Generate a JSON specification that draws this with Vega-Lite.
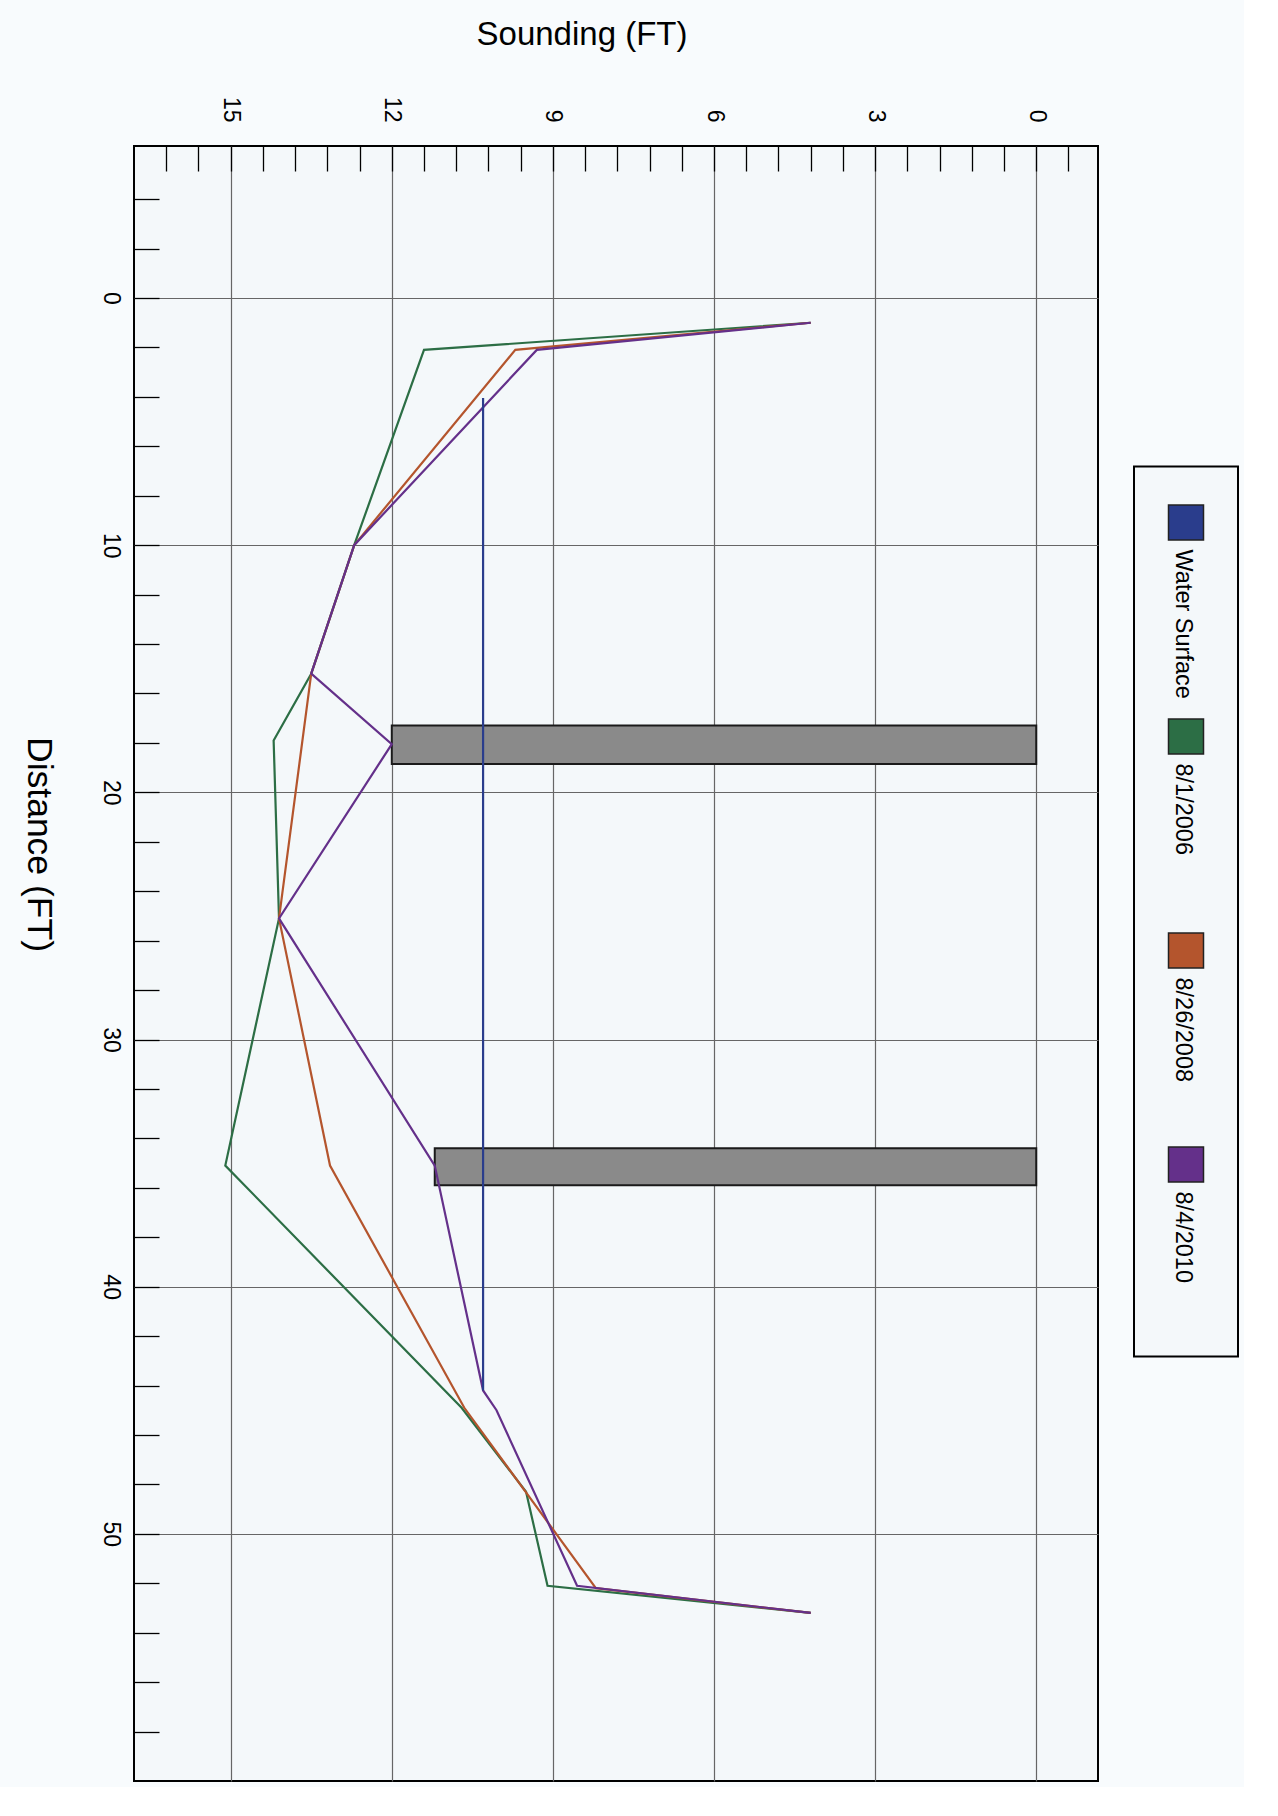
{
  "$schema": "https://vega.github.io/schema/vega-lite/v6.json",
  "background": "#f8fbfd",
  "padding": {"left": 19, "top": 17, "right": 5, "bottom": 5},
  "spacing": 34,
  "center": true,
  "config": {
    "font": "Liberation Sans",
    "view": {"stroke": "#000000", "strokeWidth": 2, "fill": "#f4f8fa"}
  },
  "datasets": {
    "piers": [
      {"pier": "Pier 1", "d_start": 17.3, "d_end": 18.85, "s_top": 12.0, "s_base": 0},
      {"pier": "Pier 2", "d_start": 34.4, "d_end": 35.9, "s_top": 11.2, "s_base": 0}
    ],
    "profiles": [
      {"series": "8/1/2006", "distance": 1.0, "sounding": 4.2},
      {"series": "8/1/2006", "distance": 2.1, "sounding": 11.4},
      {"series": "8/1/2006", "distance": 10.0, "sounding": 12.7},
      {"series": "8/1/2006", "distance": 15.2, "sounding": 13.5},
      {"series": "8/1/2006", "distance": 17.9, "sounding": 14.2},
      {"series": "8/1/2006", "distance": 25.1, "sounding": 14.1},
      {"series": "8/1/2006", "distance": 35.1, "sounding": 15.1},
      {"series": "8/1/2006", "distance": 44.9, "sounding": 10.7},
      {"series": "8/1/2006", "distance": 48.3, "sounding": 9.5},
      {"series": "8/1/2006", "distance": 52.1, "sounding": 9.1},
      {"series": "8/1/2006", "distance": 53.2, "sounding": 4.2},
      {"series": "8/26/2008", "distance": 1.0, "sounding": 4.2},
      {"series": "8/26/2008", "distance": 2.1, "sounding": 9.7},
      {"series": "8/26/2008", "distance": 10.0, "sounding": 12.7},
      {"series": "8/26/2008", "distance": 15.2, "sounding": 13.5},
      {"series": "8/26/2008", "distance": 25.1, "sounding": 14.1},
      {"series": "8/26/2008", "distance": 35.1, "sounding": 13.15},
      {"series": "8/26/2008", "distance": 44.9, "sounding": 10.65},
      {"series": "8/26/2008", "distance": 52.2, "sounding": 8.2},
      {"series": "8/26/2008", "distance": 53.2, "sounding": 4.2},
      {"series": "8/4/2010", "distance": 1.0, "sounding": 4.2},
      {"series": "8/4/2010", "distance": 2.1, "sounding": 9.3},
      {"series": "8/4/2010", "distance": 10.0, "sounding": 12.7},
      {"series": "8/4/2010", "distance": 15.2, "sounding": 13.5},
      {"series": "8/4/2010", "distance": 18.05, "sounding": 12.0},
      {"series": "8/4/2010", "distance": 25.1, "sounding": 14.1},
      {"series": "8/4/2010", "distance": 35.1, "sounding": 11.2},
      {"series": "8/4/2010", "distance": 44.2, "sounding": 10.3},
      {"series": "8/4/2010", "distance": 45.0, "sounding": 10.05},
      {"series": "8/4/2010", "distance": 52.1, "sounding": 8.55},
      {"series": "8/4/2010", "distance": 53.2, "sounding": 4.2},
      {"series": "Water Surface", "distance": 4.05, "sounding": 10.3},
      {"series": "Water Surface", "distance": 44.2, "sounding": 10.3}
    ],
    "legend": [
      {"series": "Water Surface", "rank": 0},
      {"series": "8/1/2006", "rank": 1},
      {"series": "8/26/2008", "rank": 2},
      {"series": "8/4/2010", "rank": 3}
    ]
  },
  "hconcat": [
    {
      "width": 964,
      "height": 1635,
      "layer": [
        {
          "data": {"name": "piers"},
          "mark": {"type": "rect", "fill": "#8a8a8a", "stroke": "#1a1a1a", "strokeWidth": 2},
          "encoding": {
            "x": {
              "field": "s_top", "type": "quantitative",
              "scale": {"domain": [-1.15, 16.8], "reverse": true, "nice": false, "zero": false},
              "axis": {
                "orient": "top",
                "title": "Sounding (FT)",
                "values": [-0.6, 0, 0.6, 1.2, 1.8, 2.4, 3, 3.6, 4.2, 4.8, 5.4, 6, 6.6, 7.2, 7.8, 8.4, 9, 9.6, 10.2, 10.8, 11.4, 12, 12.6, 13.2, 13.8, 14.4, 15, 15.6, 16.2],
                "tickCount": 100,
                "labelExpr": "datum.value % 3 === 0 ? format(datum.value, 'd') : ''",
                "labelAngle": 90, "labelAlign": "right", "labelBaseline": "middle",
                "labelFontSize": 23, "labelColor": "#000000", "labelPadding": 49,
                "labelOverlap": false, "labelFlush": false,
                "tickSize": -25, "tickColor": "#000000", "tickWidth": 1.3,
                "domain": false,
                "grid": true, "gridColor": "#666666", "gridWidth": 1.2,
                "gridOpacity": {"condition": {"test": "datum.value % 3 === 0", "value": 1}, "value": 0},
                "titleFontSize": 33, "titleFontWeight": "normal", "titleColor": "#000000",
                "titleX": 447.5, "titleY": -111.5, "titleAngle": 0, "titleAlign": "center", "titleBaseline": "middle"
              }
            },
            "x2": {"field": "s_base"},
            "y": {
              "field": "d_start", "type": "quantitative",
              "scale": {"domain": [-6.15, 60], "reverse": true, "nice": false, "zero": false},
              "axis": {
                "orient": "left",
                "title": "Distance (FT)",
                "values": [-4, -2, 0, 2, 4, 6, 8, 10, 12, 14, 16, 18, 20, 22, 24, 26, 28, 30, 32, 34, 36, 38, 40, 42, 44, 46, 48, 50, 52, 54, 56, 58],
                "tickCount": 100,
                "labelExpr": "datum.value % 10 === 0 ? format(datum.value, 'd') : ''",
                "labelAngle": 90, "labelAlign": "center", "labelBaseline": "middle",
                "labelFontSize": 23, "labelColor": "#000000", "labelPadding": 49,
                "labelOverlap": false, "labelFlush": false,
                "tickSize": -25, "tickColor": "#000000", "tickWidth": 1.3,
                "domain": false,
                "grid": true, "gridColor": "#666666", "gridWidth": 1.2,
                "gridOpacity": {"condition": {"test": "datum.value % 10 === 0", "value": 1}, "value": 0},
                "titleFontSize": 35.5, "titleFontWeight": "normal", "titleColor": "#000000",
                "titleX": -95.5, "titleY": 698, "titleAngle": 90, "titleAlign": "center", "titleBaseline": "middle"
              }
            },
            "y2": {"field": "d_end"}
          }
        },
        {
          "data": {"name": "profiles"},
          "mark": {"type": "line", "strokeWidth": 2.2},
          "encoding": {
            "x": {"field": "sounding", "type": "quantitative"},
            "y": {"field": "distance", "type": "quantitative"},
            "color": {
              "field": "series", "type": "nominal",
              "scale": {"domain": ["Water Surface", "8/1/2006", "8/26/2008", "8/4/2010"], "range": ["#2a3d8c", "#2c6e45", "#b4552d", "#64308a"]},
              "legend": null
            },
            "order": {"field": "distance", "type": "quantitative"}
          }
        }
      ]
    },
    {
      "width": 104,
      "height": 890,
      "title": {"text": "legend", "orient": "bottom", "fontSize": 20, "offset": 84, "color": "rgba(0,0,0,0)"},
      "data": {"name": "legend"},
      "layer": [
        {
          "mark": {"type": "square", "size": 1225, "filled": true, "opacity": 1, "stroke": "#222222", "strokeWidth": 1.5},
          "encoding": {
            "y": {"field": "rank", "type": "quantitative", "scale": {"domain": [-0.2617, 3.897], "reverse": true, "nice": false, "zero": false}, "axis": null},
            "color": {"field": "series", "type": "nominal", "legend": null}
          }
        },
        {
          "mark": {"type": "text", "angle": 90, "align": "left", "baseline": "middle", "dx": 27, "dy": 3, "fontSize": 23.5, "color": "#000000"},
          "encoding": {
            "y": {"field": "rank", "type": "quantitative", "scale": {"domain": [-0.2617, 3.897], "reverse": true, "nice": false, "zero": false}, "axis": null},
            "text": {"field": "series"}
          }
        }
      ]
    }
  ]
}
